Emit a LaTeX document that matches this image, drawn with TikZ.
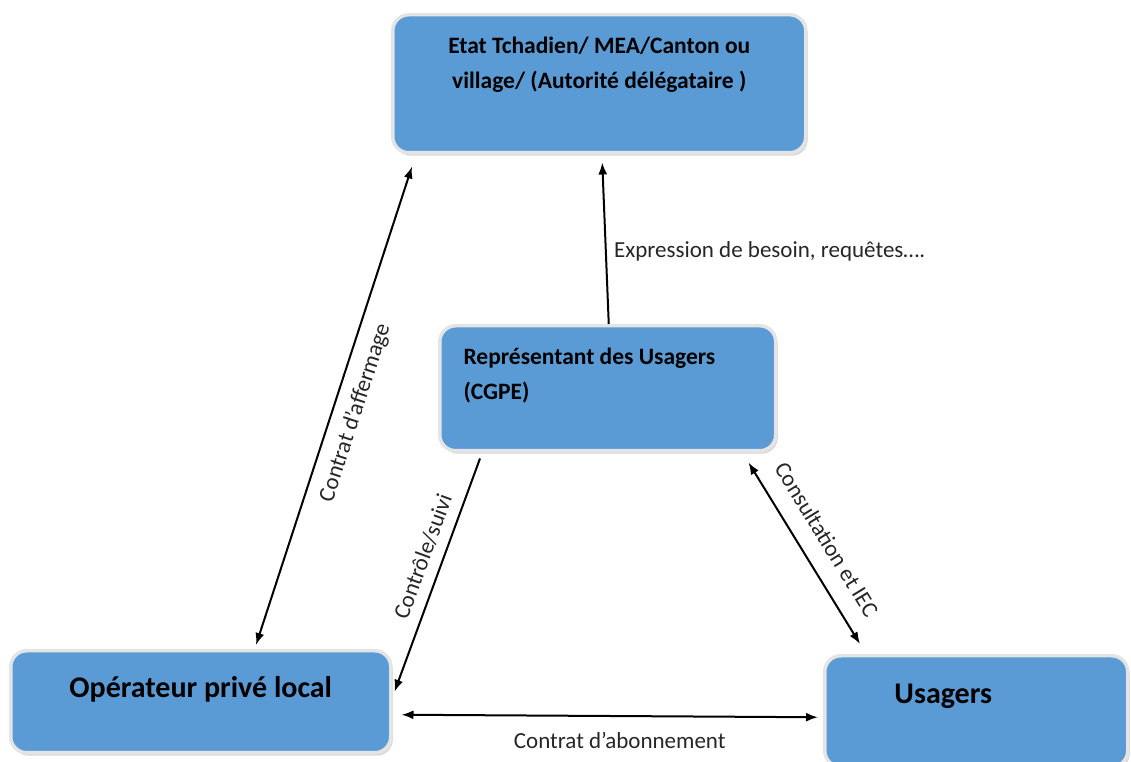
\documentclass[tikz,border=0pt]{standalone}
\usepackage{fontspec}
\setmainfont{Carlito}
\usetikzlibrary{arrows.meta,shadows}
\definecolor{boxblue}{HTML}{5B9BD5}
\definecolor{rim}{HTML}{E4E4E4}
\begin{document}
\begin{tikzpicture}[x=1pt,y=1pt,
  box/.style={anchor=north west,fill=boxblue,draw=rim,line width=3.5pt,rounded corners=16pt,
    drop shadow={shadow xshift=2pt,shadow yshift=-3pt,opacity=.3}},
  boxtext/.style={font=\fontsize{23.5}{35}\selectfont\bfseries},
  lbl/.style={font=\fontsize{23}{26}\selectfont,text=black!85},
  link/.style={line width=2pt,{Latex[length=12pt,width=9pt]}-{Latex[length=12pt,width=9pt]}}]
\useasboundingbox (0,0) rectangle (1131,762);
\node[box,minimum width=413pt,minimum height=138pt] (etat) at (391,749) {};
\node[box,minimum width=336pt,minimum height=125pt] (cgpe) at (438,438) {};
\node[box,minimum width=380pt,minimum height=102pt] (oper) at (9,113) {};
\node[box,minimum width=303pt,minimum height=111pt] (usag) at (823,108) {};
\node[boxtext,anchor=north,align=center] (etatT) at ([yshift=-20pt]etat.north) {Etat Tchadien/ MEA/Canton ou\\village/ (Autorité délégataire )};
\node[boxtext,anchor=north west,align=left] (cgpeT) at ([xshift=22pt,yshift=-20pt]cgpe.north west) {Représentant des Usagers\\(CGPE)};
\node[boxtext,font=\fontsize{30}{34}\selectfont\bfseries] (operT) at ([yshift=12pt]oper.center) {Opérateur privé local};
\node[boxtext,font=\fontsize{30}{34}\selectfont\bfseries] (usagT) at ([xshift=-33pt,yshift=15pt]usag.center) {Usagers};
\draw[link] ([xshift=247pt,yshift=4pt]oper.north west) -- ([xshift=21pt,yshift=-12pt]etat.south west)
  node[lbl,midway,sloped,below=8pt] {Contrat d’affermage};
\draw[line width=2pt,-{Latex[length=12pt,width=9pt]}] ([xshift=1pt]cgpe.north) -- ([xshift=3pt,yshift=-8pt]etat.south)
  node[lbl,pos=0.45,right=4pt] {Expression de besoin, requêtes….};
\draw[line width=2pt,-{Latex[length=12pt,width=9pt]}] ([xshift=42pt,yshift=-6pt]cgpe.south west) -- ([xshift=2pt,yshift=10pt]oper.east)
  node[lbl,pos=0.45,sloped,above=7pt] {Contrôle/suivi};
\draw[link] ([xshift=-29pt,yshift=-10pt]cgpe.south east) -- ([xshift=37pt,yshift=10pt]usag.north west)
  node[lbl,midway,sloped,above=14pt] {Consultation et IEC};
\draw[link] ([xshift=9pt,yshift=-13pt]oper.east) -- ([xshift=-5pt,yshift=-6pt]usag.west)
  node[lbl,midway,xshift=10pt,below=12pt] {Contrat d’abonnement};
\end{tikzpicture}
\end{document}
